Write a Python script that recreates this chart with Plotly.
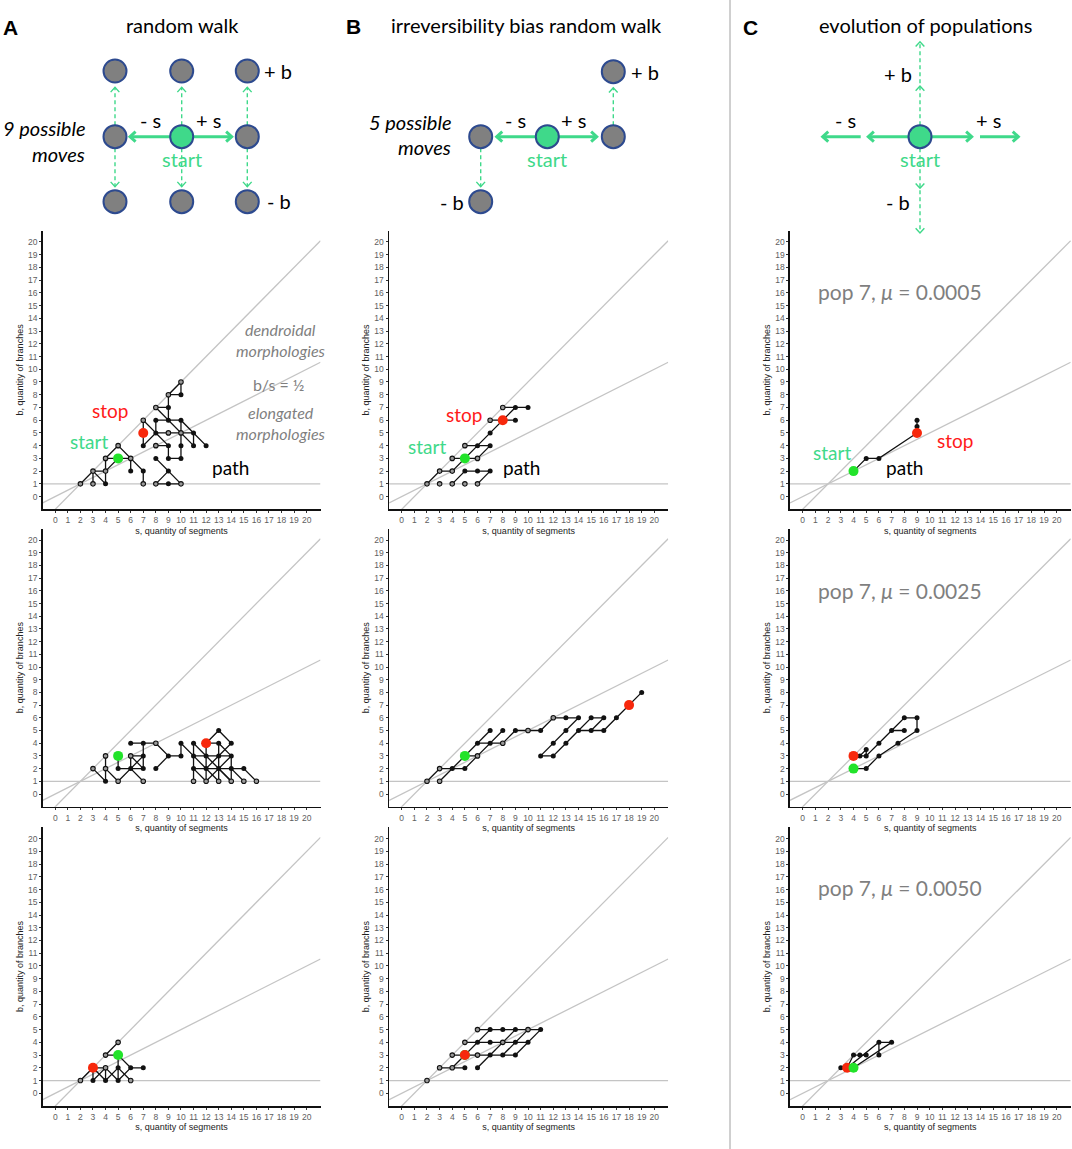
import math
import plotly.graph_objects as go

W, H = 1072, 1149

# ---------------- data ----------------
S_TICKS = list(range(0, 21))
B_TICKS = list(range(0, 21))
S_RANGE = [-1, 21.1]
B_RANGE = [-1, 20.9]
STEEP_SLOPE, STEEP_INTERCEPT = 1.0, -1.0   # b = s - 1
HALF_SLOPE = 0.5                            # b/s = 1/2
B_FLOOR = 1                                 # b = 1

# column A: random walk
A1_paths = [
    [(2, 1), (3, 2), (4, 2), (5, 3), (6, 3), (7, 2), (7, 1)],
    [(3, 1), (3, 2), (4, 1), (4, 2), (4, 3), (5, 4), (6, 3), (6, 2)],
    [(4, 3), (5, 3)],
    [(7, 6), (7, 5), (7, 4), (8, 5), (8, 6), (9, 6), (10, 6), (11, 5), (12, 4)],
    [(7, 6), (8, 5), (9, 5), (10, 5)],
    [(8, 7), (9, 6), (10, 5), (11, 4)],
    [(8, 7), (9, 7), (9, 8), (10, 8), (10, 9), (9, 8)],
    [(9, 7), (9, 6)],
    [(8, 5), (9, 4), (9, 3), (10, 3), (10, 4), (10, 5), (10, 6)],
    [(10, 5), (11, 5), (11, 4)],
    [(8, 3), (9, 2), (8, 1)],
    [(9, 2), (10, 1)],
    [(8, 1), (9, 1), (10, 1)],
    [(8, 4), (9, 4)],
]
A1_open = [(2, 1), (3, 1), (3, 2), (4, 2), (4, 3), (5, 4), (6, 3), (7, 1), (7, 6),
           (8, 1), (8, 4), (8, 7), (9, 5), (9, 8), (10, 1), (10, 5), (10, 9)]
A1_start, A1_stop = (5, 3), (7, 5)

A2_paths = [
    [(3, 2), (4, 1), (4, 2), (4, 3)],
    [(4, 2), (5, 1), (6, 2), (7, 1)],
    [(5, 3), (5, 2), (6, 2), (7, 2), (7, 3), (7, 4), (6, 4)],
    [(6, 2), (7, 3), (6, 3), (6, 2)],
    [(6, 3), (7, 2)],
    [(7, 4), (8, 4), (9, 3), (10, 3), (10, 4), (11, 3), (12, 3), (13, 3), (14, 3)],
    [(9, 3), (8, 2)],
    [(11, 4), (11, 3), (11, 2), (11, 1)],
    [(11, 4), (12, 3), (13, 2), (14, 1)],
    [(11, 3), (12, 2), (13, 1)],
    [(11, 2), (12, 1)],
    [(11, 2), (12, 2), (13, 2), (14, 2), (15, 2), (16, 1)],
    [(12, 4), (12, 3), (12, 2), (12, 1)],
    [(12, 4), (13, 5), (14, 4), (13, 3), (12, 2)],
    [(12, 4), (13, 4), (14, 3), (13, 2)],
    [(13, 4), (13, 3), (13, 2), (13, 1)],
    [(12, 1), (13, 2)],
    [(13, 2), (14, 1)],
    [(14, 2), (15, 1)],
    [(14, 3), (14, 2), (14, 1)],
]
A2_open = [(3, 2), (4, 2), (4, 3), (5, 1), (6, 3), (7, 1), (8, 4), (11, 1), (12, 1),
           (13, 1), (14, 1), (15, 1), (16, 1)]
A2_start, A2_stop = (5, 3), (12, 4)

A3_paths = [
    [(2, 1), (3, 2), (3, 1)],
    [(3, 1), (4, 2), (5, 1), (6, 2), (7, 2)],
    [(3, 2), (4, 1), (5, 2), (6, 1)],
    [(3, 2), (4, 2), (4, 1)],
    [(5, 3), (5, 2), (5, 1)],
    [(4, 3), (5, 3), (6, 2)],
    [(4, 3), (5, 4)],
]
A3_open = [(2, 1), (4, 2), (4, 3), (5, 4), (6, 1)]
A3_start, A3_stop = (5, 3), (3, 2)

# column B: irreversibility bias random walk
B1_paths = [
    [(2, 1), (3, 2), (4, 2), (5, 3), (6, 3), (7, 4), (6, 4), (5, 4)],
    [(4, 3), (5, 3), (6, 4), (7, 5), (8, 6), (9, 7), (10, 7)],
    [(7, 6), (8, 6), (9, 6)],
    [(8, 7), (9, 7)],
    [(4, 1), (5, 2), (6, 2), (7, 2)],
    [(6, 1), (7, 2)],
]
B1_open = [(2, 1), (3, 1), (3, 2), (4, 1), (4, 2), (4, 3), (5, 1), (5, 4), (6, 1),
           (6, 3), (7, 6), (8, 7)]
B1_extra = [(3, 1), (5, 1)]
B1_start, B1_stop = (5, 3), (8, 6)

B2_paths = [
    [(2, 1), (3, 2)],
    [(3, 1), (4, 2), (5, 3), (6, 4), (7, 5)],
    [(3, 2), (4, 2), (5, 2), (6, 3), (7, 4), (8, 5)],
    [(5, 3), (6, 3)],
    [(6, 4), (7, 4), (8, 4), (9, 5), (10, 5), (11, 5), (12, 6), (13, 6), (14, 6)],
    [(11, 3), (12, 3), (13, 4), (14, 5), (15, 5), (16, 5), (17, 6), (18, 7), (19, 8)],
    [(11, 3), (12, 4), (13, 5), (14, 6)],
    [(14, 5), (15, 6), (16, 6)],
    [(15, 5), (16, 6)],
]
B2_open = [(2, 1), (3, 1), (3, 2), (6, 3), (8, 4), (10, 5), (12, 6)]
B2_extra = []
B2_start, B2_stop = (5, 3), (18, 7)

B3_paths = [
    [(3, 2), (4, 2), (5, 2)],
    [(4, 2), (5, 3), (6, 4), (7, 5)],
    [(4, 3), (5, 3), (6, 3), (7, 3), (8, 3), (9, 3)],
    [(5, 4), (6, 4), (7, 4), (8, 4), (9, 4), (10, 4)],
    [(6, 5), (7, 5), (8, 5), (9, 5), (10, 5), (11, 5)],
    [(6, 2), (7, 3), (8, 4), (9, 5)],
    [(8, 3), (9, 4), (10, 5)],
    [(9, 3), (10, 4), (11, 5)],
]
B3_open = [(2, 1), (3, 2), (4, 2), (4, 3), (5, 4), (6, 3), (6, 5), (8, 4), (10, 5)]
B3_extra = [(2, 1)]
B3_start, B3_stop = (5, 3), (5, 3)

# column C: evolution of populations
C1_paths = [[(4, 2), (5, 3), (6, 3), (9, 5), (9, 5.5), (9, 6)]]
C1_start, C1_stop = (4, 2), (9, 5)
C1_label = "pop 7, <i>μ</i> = 0.0005"

C2_paths = [
    [(4, 2), (5, 2), (6, 3), (7.5, 4), (9, 5), (9, 6), (8, 6), (7, 5), (6, 4), (5, 3),
     (4.5, 3), (4, 3)],
    [(7, 5), (8, 5)],
    [(4.5, 3), (5, 3.5), (5, 3)],
]
C2_start, C2_stop = (4, 2), (4, 3)
C2_label = "pop 7, <i>μ</i> = 0.0025"

C3_paths = [
    [(4, 2), (7, 4), (6, 4), (6, 3)],
    [(6, 4), (3.5, 2), (3, 2)],
    [(3.5, 2), (4, 3), (4.5, 3), (5, 3)],
]
C3_start, C3_stop = (4, 2), (3.5, 2)
C3_label = "pop 7, <i>μ</i> = 0.0050"

COLUMN_TITLES = ["random walk", "irreversibility bias random walk", "evolution of populations"]
COLUMN_LETTERS = ["A", "B", "C"]
S_TITLE = "s, quantity of segments"
B_TITLE = "b, quantity of branches"

# ---------------- layout geometry (pixels) ----------------
COL_PX = [(42.7, 320.5), (389.1, 668.2), (790.0, 1070.7)]
ROW_PX = [(230.5, 509.3), (528.6, 806.7), (827.2, 1106.0)]

PANELS = [
    dict(paths=A1_paths, open=A1_open, extra=[], start=A1_start, stop=A1_stop, r=0, c=0),
    dict(paths=A2_paths, open=A2_open, extra=[], start=A2_start, stop=A2_stop, r=1, c=0),
    dict(paths=A3_paths, open=A3_open, extra=[], start=A3_start, stop=A3_stop, r=2, c=0),
    dict(paths=B1_paths, open=B1_open, extra=B1_extra, start=B1_start, stop=B1_stop, r=0, c=1),
    dict(paths=B2_paths, open=B2_open, extra=B2_extra, start=B2_start, stop=B2_stop, r=1, c=1),
    dict(paths=B3_paths, open=B3_open, extra=B3_extra, start=B3_start, stop=B3_stop, r=2, c=1),
    dict(paths=C1_paths, open=[], extra=[], start=C1_start, stop=C1_stop, r=0, c=2),
    dict(paths=C2_paths, open=[], extra=[], start=C2_start, stop=C2_stop, r=1, c=2),
    dict(paths=C3_paths, open=[], extra=[], start=C3_start, stop=C3_stop, r=2, c=2,
         start_on_top=True),
]

GREEN_DOT = "#22e32a"
RED_DOT = "#f7280c"
MINT = "#3fd98a"
GRAY_LINE = "#c4c4c4"
GRAY_TEXT = "#7f7f7f"
FONT = "Lato"

fig = go.Figure()
layout = {}

for i, p in enumerate(PANELS, start=1):
    xa, ya = f"x{i}", f"y{i}"
    x0, x1 = COL_PX[p["c"]]
    ytop, ybot = ROW_PX[p["r"]]
    common = dict(
        tickmode="array", ticks="outside", ticklen=2, tickwidth=1, tickcolor="#333",
        showline=True, linecolor="#111", linewidth=1.6,
        showgrid=False, zeroline=False, fixedrange=True,
        tickfont=dict(family="Liberation Sans", size=8.5, color="#5e5e5e"),
    )
    layout[f"xaxis{i}"] = dict(
        domain=[x0 / W, x1 / W], range=S_RANGE, anchor=ya,
        tickvals=S_TICKS, ticktext=[str(t) for t in S_TICKS],
        title=dict(text=S_TITLE, standoff=3,
                   font=dict(family="Liberation Sans", size=9, color="#222")),
        **common,
    )
    layout[f"yaxis{i}"] = dict(
        domain=[1 - ybot / H, 1 - ytop / H], range=B_RANGE, anchor=xa,
        tickvals=B_TICKS, ticktext=[str(t) for t in B_TICKS],
        title=dict(text=B_TITLE, standoff=3,
                   font=dict(family="Liberation Sans", size=9, color="#222")),
        **common,
    )
    # reference lines
    sx = [S_RANGE[0], S_RANGE[1]]
    for ys in ([STEEP_SLOPE * s + STEEP_INTERCEPT for s in sx],
               [HALF_SLOPE * s for s in sx],
               [B_FLOOR, B_FLOOR]):
        fig.add_trace(go.Scatter(x=sx, y=ys, mode="lines", xaxis=xa, yaxis=ya,
                                 line=dict(color=GRAY_LINE, width=1.3),
                                 hoverinfo="skip", showlegend=False))
    # path segments
    lx, ly = [], []
    nodes = []
    for path in p["paths"]:
        for (s, b) in path:
            lx.append(s)
            ly.append(b)
            if (s, b) not in nodes:
                nodes.append((s, b))
        lx.append(None)
        ly.append(None)
    for n in p["extra"]:
        if n not in nodes:
            nodes.append(n)
    fig.add_trace(go.Scatter(x=lx, y=ly, mode="lines", xaxis=xa, yaxis=ya,
                             line=dict(color="#111", width=1.3),
                             hoverinfo="skip", showlegend=False))
    filled = [n for n in nodes if n not in p["open"]]
    hollow = [n for n in nodes if n in p["open"]]
    fig.add_trace(go.Scatter(x=[n[0] for n in filled], y=[n[1] for n in filled],
                             mode="markers", xaxis=xa, yaxis=ya,
                             marker=dict(color="#111", size=5),
                             hoverinfo="skip", showlegend=False))
    fig.add_trace(go.Scatter(x=[n[0] for n in hollow], y=[n[1] for n in hollow],
                             mode="markers", xaxis=xa, yaxis=ya,
                             marker=dict(color="#9a9a9a", size=4.5,
                                         line=dict(color="#111", width=1.1)),
                             hoverinfo="skip", showlegend=False))
    ends = [(p["start"], GREEN_DOT), (p["stop"], RED_DOT)]
    if p.get("start_on_top"):
        ends.reverse()
    for (pt, col) in ends:
        fig.add_trace(go.Scatter(x=[pt[0]], y=[pt[1]], mode="markers",
                                 xaxis=xa, yaxis=ya, marker=dict(color=col, size=10),
                                 hoverinfo="skip", showlegend=False))

# overlay pixel axis for schematic drawings and free text
OV = 10
layout[f"xaxis{OV}"] = dict(domain=[0, 1], range=[0, W], visible=False, fixedrange=True,
                            anchor=f"y{OV}")
layout[f"yaxis{OV}"] = dict(domain=[0, 1], range=[H, 0], visible=False, fixedrange=True,
                            anchor=f"x{OV}")
fig.add_trace(go.Scatter(x=[0], y=[0], mode="markers", marker=dict(size=1, opacity=0),
                         xaxis=f"x{OV}", yaxis=f"y{OV}", hoverinfo="skip", showlegend=False))

shapes = []
annotations = []
XR, YR = f"x{OV}", f"y{OV}"


def text(x, y, t, size=20, color="black", italic=False, bold=False, family=FONT,
         xanchor="center"):
    if italic:
        t = f"<i>{t}</i>"
    if bold:
        t = f"<b>{t}</b>"
    annotations.append(dict(x=x, y=y, xref=XR, yref=YR, text=t, showarrow=False,
                            xanchor=xanchor, yanchor="middle",
                            font=dict(family=family, size=size, color=color)))


def circle(cx, cy, fill, r=11.5):
    shapes.append(dict(type="circle", xref=XR, yref=YR, x0=cx - r, x1=cx + r,
                       y0=cy - r, y1=cy + r, fillcolor=fill,
                       line=dict(color="#2d4a8f", width=2)))


def arrow(p0, p1, width=3, dash=None, head=7.5):
    line = dict(color=MINT, width=width)
    if dash:
        line["dash"] = dash
    shapes.append(dict(type="line", xref=XR, yref=YR, x0=p0[0], y0=p0[1],
                       x1=p1[0], y1=p1[1], line=line))
    chev(p1, (p1[0] - p0[0], p1[1] - p0[1]), width, head)


def chev(tip, d, width, L=7.5, ang=42):
    n = math.hypot(*d)
    dx, dy = d[0] / n, d[1] / n
    pts = []
    for sg in (1, -1):
        a = math.radians(ang * sg)
        vx, vy = -dx, -dy
        pts.append((tip[0] + L * (vx * math.cos(a) - vy * math.sin(a)),
                    tip[1] + L * (vx * math.sin(a) + vy * math.cos(a))))
    path = (f"M {pts[0][0]:.2f},{pts[0][1]:.2f} L {tip[0]:.2f},{tip[1]:.2f} "
            f"L {pts[1][0]:.2f},{pts[1][1]:.2f}")
    shapes.append(dict(type="path", xref=XR, yref=YR, path=path,
                       line=dict(color=MINT, width=width)))


R = 11.5
DASH = "4px,3px"
# ----- A schematic -----
ax_cols = [115.0, 181.7, 247.3]
ax_rows = [71.0, 136.7, 201.7]
for cx in ax_cols:
    arrow((cx, ax_rows[1] - R), (cx, 87.3), width=1.4, dash=DASH, head=6.5)
    arrow((cx, ax_rows[1] + R), (cx, 186.7), width=1.4, dash=DASH, head=6.5)
arrow((ax_cols[1] - R, ax_rows[1]), (130.0, ax_rows[1]))
arrow((ax_cols[1] + R, ax_rows[1]), (231.7, ax_rows[1]))
for cx in ax_cols:
    for cy in ax_rows:
        circle(cx, cy, MINT if (cx == ax_cols[1] and cy == ax_rows[1]) else "#808080")
text(278, 71, "+ b")
text(279, 201, "- b")
text(150, 120, "- s")
text(208, 120, "+ s")
text(182, 159, "start", color=MINT)
text(87, 128, "9 possible", italic=True, xanchor="right")
text(87, 154, "moves", italic=True, xanchor="right")

# ----- B schematic -----
bl, bc, br = 480.7, 547.3, 613.3
my = 136.7
arrow((br, my - R), (br, 87.7), width=1.4, dash=DASH, head=6.5)
arrow((bl, my + R), (bl, 186.7), width=1.4, dash=DASH, head=6.5)
arrow((bc - R, my), (496.7, my))
arrow((bc + R, my), (596.7, my))
circle(bl, my, "#808080")
circle(bc, my, MINT)
circle(br, my, "#808080")
circle(br, 71.7, "#808080")
circle(bl, 201.7, "#808080")
text(645, 72, "+ b")
text(452, 202, "- b")
text(515, 120, "- s")
text(573, 120, "+ s")
text(547, 159, "start", color=MINT)
text(453, 122, "5 possible", italic=True, xanchor="right")
text(453, 147, "moves", italic=True, xanchor="right")

# ----- C schematic -----
cc = 920.0
shapes.append(dict(type="line", xref=XR, yref=YR, x0=cc, y0=my - R, x1=cc, y1=41.7,
                   line=dict(color=MINT, width=1.4, dash=DASH)))
chev((cc, 86.0), (0, -1), 1.4, 6.5)
chev((cc, 41.7), (0, -1), 1.4, 6.5)
shapes.append(dict(type="line", xref=XR, yref=YR, x0=cc, y0=my + R, x1=cc, y1=233,
                   line=dict(color=MINT, width=1.4, dash=DASH)))
chev((cc, 188.3), (0, 1), 1.4, 6.5)
chev((cc, 233.0), (0, 1), 1.4, 6.5)
arrow((cc - R, my), (868.3, my))
arrow((860.7, my), (822.7, my))
arrow((cc + R, my), (971.7, my))
arrow((980.0, my), (1018.3, my))
circle(cc, my, MINT)
text(898, 74, "+ b")
text(898, 202, "- b")
text(845, 120, "- s")
text(988, 120, "+ s")
text(920, 159, "start", color=MINT)

# ----- headers -----
text(10.5, 27, COLUMN_LETTERS[0], size=21, bold=True, family="Liberation Sans")
text(353, 26, COLUMN_LETTERS[1], size=21, bold=True, family="Liberation Sans")
text(750, 27, COLUMN_LETTERS[2], size=21, bold=True, family="Liberation Sans")
text(182, 25, COLUMN_TITLES[0], size=20)
text(526, 25, COLUMN_TITLES[1], size=20)
text(925, 25, COLUMN_TITLES[2], size=20)

# separator
shapes.append(dict(type="line", xref=XR, yref=YR, x0=730, x1=730, y0=0, y1=H,
                   line=dict(color="#a0a0a0", width=1)))

# ----- in-panel labels -----
text(280, 329.3, "dendroidal", size=16, color=GRAY_TEXT, italic=True)
text(280.7, 350.7, "morphologies", size=16, color=GRAY_TEXT, italic=True)
text(278.3, 384, "b/s = ½", size=16, color=GRAY_TEXT)
text(280.7, 412.7, "elongated", size=16, color=GRAY_TEXT, italic=True)
text(280.7, 433.3, "morphologies", size=16, color=GRAY_TEXT, italic=True)
text(110, 410, "stop", size=19, color="#ff1a1a")
text(89.3, 441.7, "start", size=19, color=MINT)
text(230, 467.3, "path", size=19)
text(464.3, 414.3, "stop", size=19, color="#ff1a1a")
text(427.3, 446, "start", size=19, color=MINT)
text(521.7, 467.3, "path", size=19)
text(900, 291.7, C1_label, size=21, color=GRAY_TEXT)
text(900, 590, C2_label, size=21, color=GRAY_TEXT)
text(900, 887.3, C3_label, size=21, color=GRAY_TEXT)
text(832.3, 452.7, "start", size=19, color=MINT)
text(955, 440, "stop", size=19, color="#ff1a1a")
text(904, 467.3, "path", size=19)

fig.update_layout(
    width=W, height=H,
    margin=dict(l=0, r=0, t=0, b=0),
    paper_bgcolor="white", plot_bgcolor="rgba(0,0,0,0)",
    showlegend=False,
    shapes=shapes, annotations=annotations,
    **layout,
)

fig.write_html("out.html", config={"displayModeBar": False, "staticPlot": True},
               post_script="document.body.style.margin='0px';document.body.style.overflow='hidden';")
